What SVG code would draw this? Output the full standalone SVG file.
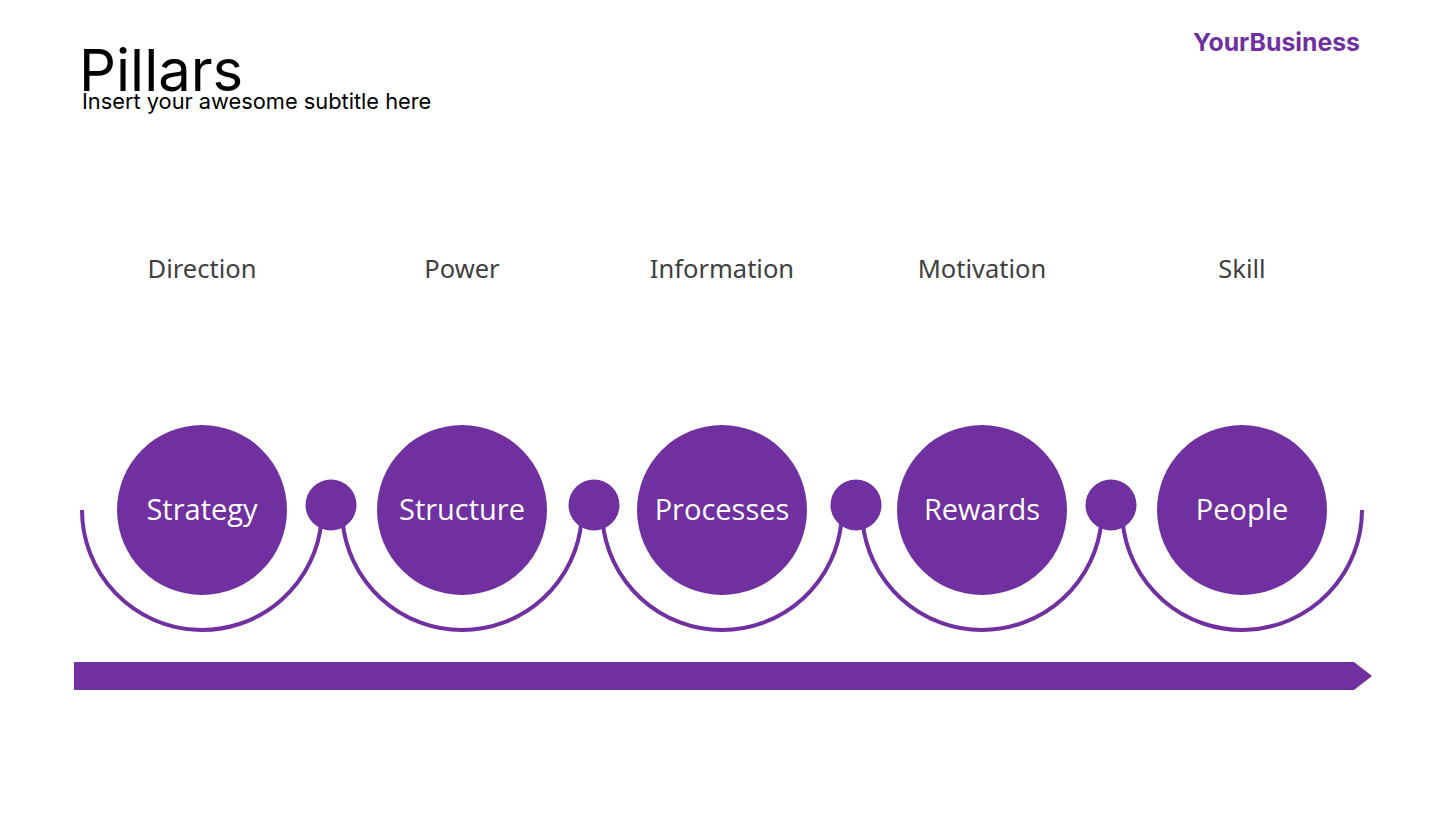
<svg xmlns="http://www.w3.org/2000/svg" width="1445" height="813" viewBox="0 0 1445 813">
<style>
.arc{fill:none;stroke:#7030A0;stroke-width:4}
.big{fill:#7030A0}
.small{fill:#7030A0}
.ctext{font-family:"Open Sans","Noto Sans",sans-serif;font-size:29px;fill:#fff;text-anchor:middle}
.lbl{font-family:"Noto Sans","Open Sans",sans-serif;font-size:25.5px;fill:#404040;text-anchor:middle}
</style>
<rect width="1445" height="813" fill="#fff"/>
<text x="79" y="91" font-family="Inter,'Noto Sans',sans-serif" font-size="58" fill="#000">Pillars</text>
<text x="82" y="109" font-family="Inter,'Noto Sans',sans-serif" font-size="21.8" fill="#000">Insert your awesome subtitle here</text>
<text x="1360" y="51" font-family="Inter,'Noto Sans',sans-serif" font-size="24.8" font-weight="bold" fill="#7030A0" text-anchor="end">YourBusiness</text>
<g id="labels">
<text class="lbl" x="202" y="278">Direction</text>
<text class="lbl" x="462" y="278">Power</text>
<text class="lbl" x="722" y="278">Information</text>
<text class="lbl" x="982" y="278">Motivation</text>
<text class="lbl" x="1242" y="278">Skill</text>
</g>
<g id="connectors">
<path class="arc" d="M82 510 A120 120 0 0 0 321.54 520.46"/>
<path class="arc" d="M342.46 520.46 A120 120 0 0 0 581.54 520.46"/>
<path class="arc" d="M602.46 520.46 A120 120 0 0 0 841.54 520.46"/>
<path class="arc" d="M862.46 520.46 A120 120 0 0 0 1101.54 520.46"/>
<path class="arc" d="M1122.46 520.46 A120 120 0 0 0 1362 510"/>
</g>
<g id="joints">
<circle class="small" cx="331" cy="505" r="25.5"/>
<circle class="small" cx="594" cy="505" r="25.5"/>
<circle class="small" cx="856" cy="505" r="25.5"/>
<circle class="small" cx="1111" cy="505" r="25.5"/>
</g>
<g id="node-strategy"><circle class="big" cx="202" cy="510" r="85"/><text class="ctext" x="202" y="520">Strategy</text></g>
<g id="node-structure"><circle class="big" cx="462" cy="510" r="85"/><text class="ctext" x="462" y="520">Structure</text></g>
<g id="node-processes"><circle class="big" cx="722" cy="510" r="85"/><text class="ctext" x="722" y="520">Processes</text></g>
<g id="node-rewards"><circle class="big" cx="982" cy="510" r="85"/><text class="ctext" x="982" y="520">Rewards</text></g>
<g id="node-people"><circle class="big" cx="1242" cy="510" r="85"/><text class="ctext" x="1242" y="520">People</text></g>
<g id="timeline-arrow"><polygon points="74,662 1354,662 1372,676 1354,690 74,690" fill="#7030A0"/></g>
</svg>
